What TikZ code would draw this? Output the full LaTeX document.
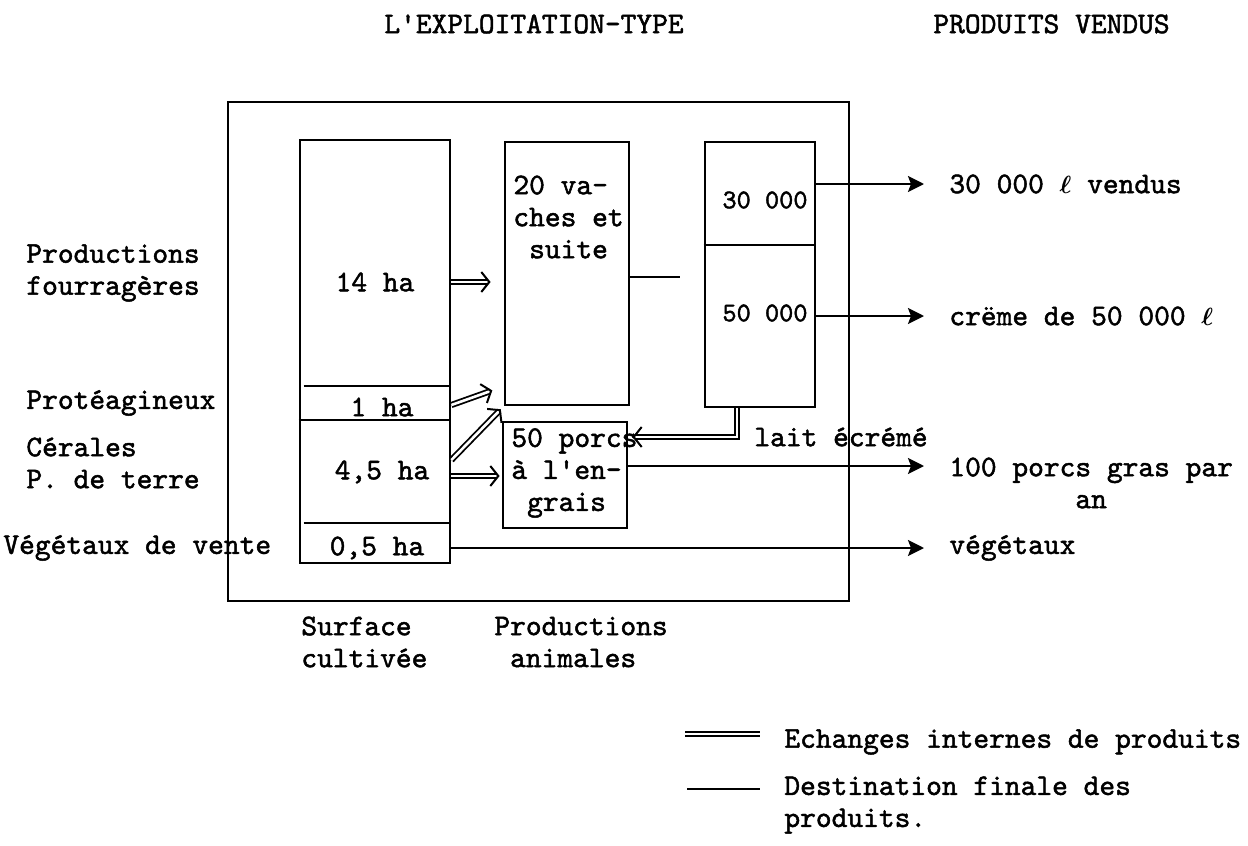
\documentclass[tikz,border=0pt]{standalone}
\usepackage{fontspec}
\newfontfamily\typewr{lmmono10-regular.otf}[FakeBold=1.6]
\newcommand{\litre}{{\boldmath$\ell$}}
\usetikzlibrary{arrows.meta}

\begin{document}
\begin{tikzpicture}[x=1pt, y=-1pt, line width=2.8pt,
    txt/.style={inner sep=0pt, align=left, font=\typewr\fontsize{30}{32}\selectfont},
    chiffre/.style={txt, font=\typewr\fontsize{27}{30}\selectfont},
    echange/.style={double, double distance=2.6pt, line width=1.8pt},
    interne/.style={echange, -{Straight Barb[length=8pt,width=20pt,line width=2pt]}},
    final/.style={line width=2.4pt, -{Stealth[length=16pt,width=16pt,inset=3pt]}, shorten >=24pt}]

  \useasboundingbox (0,0) rectangle (1248,846);

  % titres
  \node[txt, anchor=west] (tit1) at (383,24) {L'EXPLOITATION-TYPE};
  \node[txt, anchor=west] (tit2) at (932,24) {PRODUITS VENDUS};

  % cadre de l'exploitation
  \node[draw, inner sep=0pt, minimum width=621pt, minimum height=499pt] (cadre) at (538.5,351.5) {};

  % surface cultivee
  \node[draw, inner sep=0pt, minimum width=150pt, minimum height=423pt] (surf) at (375,351.5) {};
  \draw ([xshift=5pt]surf.west |- 0,386) -- (surf.east |- 0,386);
  \draw (surf.west |- 0,420) -- (surf.east |- 0,420);
  \draw ([xshift=5pt]surf.west |- 0,523) -- (surf.east |- 0,523);

  \node[txt] (ha14) at (375,282) {14 ha};
  \node[txt] (ha1) at (382,407) {1 ha};
  \node[txt] (ha45) at (382,472) {4,5 ha};
  \node[txt] (ha05) at (377,548) {0,5 ha};

  % productions animales
  \node[draw, inner sep=0pt, minimum width=124pt, minimum height=263pt] (vach) at (567,273.5) {};
  \node[draw, inner sep=0pt, minimum width=124pt, minimum height=106pt] (porc) at (565,475) {};
  \node[txt, anchor=west] (tvach) at (512,217) {20 va-\\ches et\\\hspace*{.525em}suite};
  \node[txt, anchor=west] (tporc) at (510,473) {50 porcs\\à l'en-\\\hspace*{.525em}grais};

  % lait
  \node[draw, inner sep=0pt, minimum width=110pt, minimum height=265pt] (lait) at (760,274.5) {};
  \draw (lait.west |- 0,245) -- (lait.east |- 0,245);
  \node[chiffre] (t30) at (765,200) {30 000};
  \node[chiffre] (t50) at (765,313) {50 000};
  \node[txt, anchor=west] (ecreme) at (753,437) {lait écrémé};

  % textes de gauche
  \node[txt, anchor=west] (lfour) at (25,273) {Productions\\fourragères};
  \node[txt, anchor=west] (lprot) at (25,403) {Protéagineux};
  \node[txt, anchor=west] (lcer) at (25,463) {Cérales\\P. de terre};
  \node[txt, anchor=west] (lveg) at (2,548) {Végétaux de vente};

  % produits vendus
  \node[txt, anchor=west] (v30) at (948,184) {30 000 \litre{} vendus};
  \node[txt, anchor=west] (v50) at (948,316) {crëme de 50 000 \litre};
  \node[txt, anchor=west] (v100) at (948,483) {100 porcs gras par\\\hspace*{4.2em}an};
  \node[txt, anchor=west] (vveg) at (948,548) {végétaux};

  % textes du bas
  \node[txt, anchor=west] (bsurf) at (300,642) {Surface\\cultivée};
  \node[txt, anchor=west] (banim) at (493,642) {Productions\\\hspace*{.525em}animales};

  % echanges internes
  \draw[interne, shorten >=13pt] (surf.east |- ha14) -- (vach.west |- ha14);
  \draw[interne, shorten >=12pt] ([yshift=2pt]surf.east |- ha1) -- ([yshift=20pt]vach.south west);
  \draw[interne, shorten >=4pt] ([yshift=12pt]surf.east |- ha45) -- (vach.south west);
  \draw[interne, shorten >=2pt] ([yshift=-4pt]surf.east |- ha45) -- ([yshift=-4pt]porc.west |- ha45);
  \draw[interne] ([xshift=-23pt]lait.south) |- ([xshift=4pt]porc.east |- ecreme);

  % destination finale
  \coordinate (vfin) at (680,277);
  \draw (vach.east |- vfin) -- (vfin);
  \draw[final] (lait.east |- v30) -- (v30.west);
  \draw[final] (lait.east |- v50) -- (v50.west);
  \draw[final] ([yshift=17pt]v100.west -| porc.east) -- ([yshift=17pt]v100.west);
  \draw[final] (surf.east |- vveg) -- (vveg.west);

  % legende
  \node[txt, anchor=west] (leg1) at (783,742) {Echanges internes de produits};
  \node[txt, anchor=west] (leg2) at (783,805) {Destination finale des\\produits.};
  \draw[echange] ([xshift=-98pt,yshift=8pt]leg1.west) -- ([xshift=-23pt,yshift=8pt]leg1.west);
  \draw ([xshift=-96pt,yshift=16pt]leg2.west) -- ([xshift=-23pt,yshift=16pt]leg2.west);

\end{tikzpicture}
\end{document}
